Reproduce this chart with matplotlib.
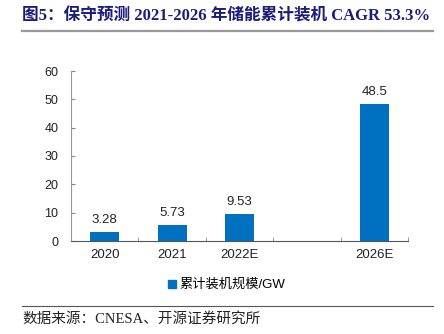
import numpy as np
import matplotlib
matplotlib.use('Agg')
import matplotlib.pyplot as plt
from matplotlib.lines import Line2D

categories = ['2020', '2021', '2022E', '', '2026E']
capacity = [3.28, 5.73, 9.53, None, 48.5]
yticks = [0, 10, 20, 30, 40, 50, 60]
title = '图5：保守预测 2021-2026 年储能累计装机 CAGR 53.3%'
series_name = '累计装机规模/GW'
source = '数据来源：CNESA、开源证券研究所'

serif_cjk = ['Liberation Serif', 'Noto Sans CJK SC']
sans_cjk = ['Liberation Sans', 'Noto Sans CJK SC']
blue = '#0070C0'

fig = plt.figure(figsize=(4.44, 3.34), dpi=100)
ax = fig.add_axes([71 / 444, 93 / 334, 337 / 444, 170 / 334])

x = np.arange(len(categories))
for xi, v in zip(x, capacity):
    if v is None:
        continue
    ax.bar(xi, v, width=0.43, color=blue, zorder=2)
    ax.annotate(f'{v:.2f}' if v < 10 else f'{v:.1f}', (xi, v), xytext=(0, 4),
                textcoords='offset points', ha='center', va='bottom',
                fontsize=9.5, family=sans_cjk, color='#222222')

ax.set_xlim(-0.5, len(categories) - 0.5)
ax.set_ylim(0, 60)
ax.set_yticks(yticks)
ax.set_xticks(x)
ax.set_xticklabels(categories)
ax.set_xticks(np.arange(-0.5, len(categories)), minor=True)
ax.tick_params(axis='x', which='major', length=0, pad=6, labelsize=9.5)
ax.tick_params(axis='x', which='minor', length=3, direction='in', color='#888888')
ax.tick_params(axis='y', length=3, direction='in', color='#888888', labelsize=9, pad=9)
for lab in ax.get_xticklabels() + ax.get_yticklabels():
    lab.set_family(sans_cjk)
    lab.set_color('#222222')

for s in ['top', 'right']:
    ax.spines[s].set_visible(False)
ax.spines['left'].set_color('#999999')
ax.spines['bottom'].set_color('#555555')
ax.spines['left'].set_linewidth(0.8)
ax.spines['bottom'].set_linewidth(0.8)

# legend
handle = Line2D([], [], marker='s', linestyle='none', color=blue, markersize=6)
fig.legend([handle], [series_name], loc='center', bbox_to_anchor=(226 / 444, 1 - 285 / 334),
           frameon=False, handletextpad=0.1, handlelength=0.8,
           prop={'family': sans_cjk, 'size': 9.5})

# title and source with rules
fig.text(22 / 444, 1 - 16 / 334, title, fontsize=12, fontweight='bold',
         color='#1C1C7C', family=serif_cjk, ha='left', va='center')
fig.add_artist(Line2D([22 / 444, 433 / 444], [1 - 31 / 334] * 2, color='#999999', lw=1.6))
fig.add_artist(Line2D([22 / 444, 433 / 444], [1 - 306 / 334] * 2, color='#555555', lw=0.8))
fig.text(22 / 444, 1 - 319 / 334, source, fontsize=10.5, color='#222222',
         family=serif_cjk, ha='left', va='center')

fig.savefig('out.png', dpi=100)
